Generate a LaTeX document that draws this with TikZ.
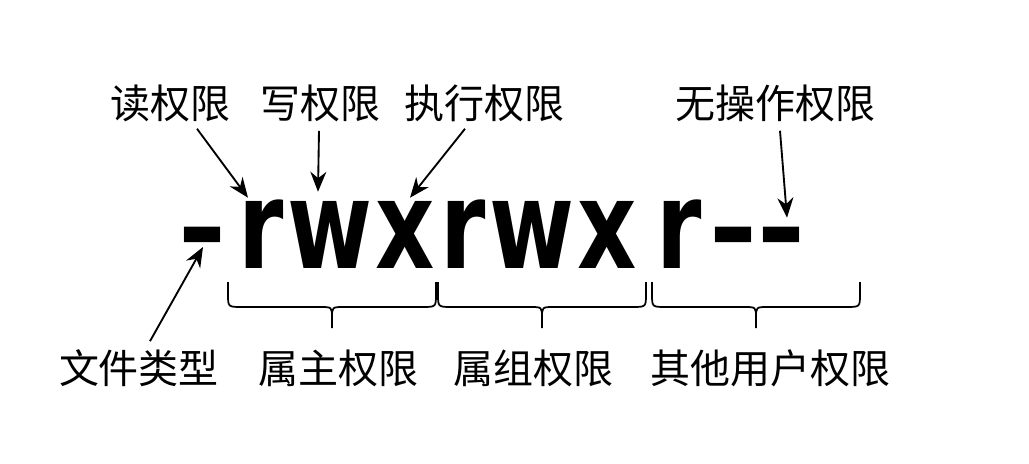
\documentclass[tikz,border=0pt]{standalone}
\usepackage{fontspec}
\newfontfamily\cjk{Noto Sans CJK SC}
\newfontfamily\permfont[FakeStretch=0.75]{DejaVu Sans}
\usetikzlibrary{arrows.meta,calc}

\begin{document}
\begin{tikzpicture}[x=0.75pt, y=-0.75pt,
	every node/.style={inner sep=0pt},
	lab/.style={font=\cjk\fontsize{30}{30}\selectfont},
	chr/.style={font=\permfont\bfseries\fontsize{92}{92}\selectfont, anchor=base, text height=51pt, text depth=0pt},
	arr/.style={-{Stealth[length=15pt,width=12pt]}, line width=1.4pt},
	brc/.style={line width=1.3pt}]
	\useasboundingbox (0,0) rectangle (1029,464);
	% the permission string, one node per character
	\foreach \ch/\x [count=\i from 0] in {–/202, r/261, w/330, x/405, r/463, w/532, x/607, r/679, –/733, –/781}
		\node[chr] (c\i) at (\x,268) {\ch};
	% labels above
	\node[lab] (lread) at (170,103) {读权限};
	\node[lab] (lwrite) at (320,103) {写权限};
	\node[lab] (lexec) at (484,103) {执行权限};
	\node[lab] (lnone) at (775,103) {无操作权限};
	% labels below
	\node[lab] (ltype) at (139,368) {文件类型};
	\node[lab] (lowner) at (338,368) {属主权限};
	\node[lab] (lgroup) at (533,368) {属组权限};
	\node[lab] (lother) at (770,368) {其他用户权限};
	% arrows
	\draw[arr] ($(lread.south)+(27,7)$) -- ($(c1.north)+(-13,-2)$);
	\draw[arr] ($(lwrite.south)+(-1,9)$) -- ($(c2.north)+(-12,-8)$);
	\draw[arr] ($(lexec.south)+(-19,7)$) -- ($(c3.north)+(5,-2)$);
	\draw[arr] ($(lnone.south)+(5,9)$) -- ($(c9.north)+(6,18)$);
	\draw[arr] ($(ltype.north)+(11,-8)$) -- ($(c0.center)+(1,13)$);
	% braces
	\foreach \x in {228,438,652}
		\draw[brc] (\x,282) -- (\x,294) .. controls (\x,307) .. (\x+14,307) -- (\x+92,307)
			.. controls (\x+104,307) .. (\x+104,318) -- (\x+104,328)
			(\x+104,318) .. controls (\x+104,307) .. (\x+116,307) -- (\x+194,307)
			.. controls (\x+208,307) .. (\x+208,294) -- (\x+208,282);
\end{tikzpicture}
\end{document}
